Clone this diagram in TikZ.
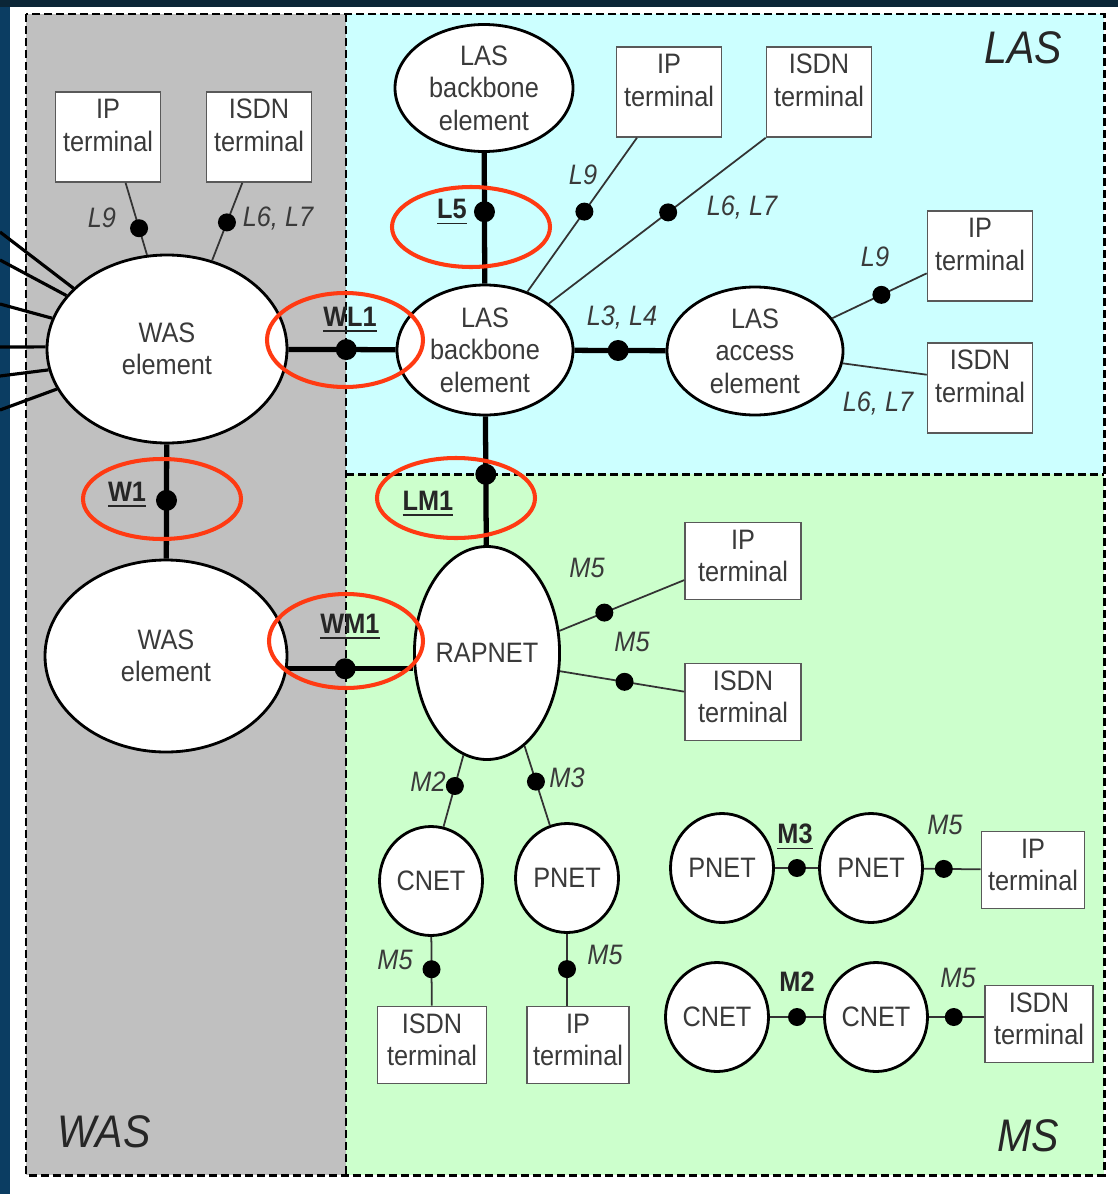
\documentclass[tikz,border=0pt]{standalone}
\usepackage{fontspec}
\setmainfont{Liberation Sans}[FakeStretch=0.9]
\usepackage{tikz}
\usetikzlibrary{shapes.geometric}

\definecolor{wasgray}{HTML}{C0C0C0}
\definecolor{lascyan}{HTML}{CCFFFF}
\definecolor{msgreen}{HTML}{CCFFCC}
\definecolor{txtgray}{HTML}{3A3A3A}
\definecolor{ringred}{HTML}{FF3A12}
\definecolor{deskblue}{HTML}{0B3D62}
\definecolor{desknavy}{HTML}{0B2637}

\newcommand{\nodesize}{\fontsize{8}{9.2}\selectfont}
\newcommand{\trm}[2][-0.9mm]{#2\\terminal\\[#1]\mbox{}}

\tikzstyle{elem} = [ellipse, draw=black, line width=0.8pt, fill=white, inner sep=0pt, align=center, text=txtgray]
\tikzstyle{net} = [ellipse, draw=black, line width=0.8pt, fill=white, inner sep=0pt, minimum width=10.3mm, minimum height=10.9mm, text=txtgray]
\tikzstyle{term} = [rectangle, draw=black!65, line width=0.45pt, fill=white, inner sep=0pt, align=center, minimum width=10.5mm, minimum height=9mm, text=txtgray]
\tikzstyle{smallterm} = [term, minimum height=7.7mm]
\tikzstyle{refdot} = [circle, fill=black, inner sep=0pt, minimum size=1.8mm]
\tikzstyle{bigdot} = [refdot, minimum size=2.1mm]
\tikzstyle{trunk} = [line width=1.5pt]
\tikzstyle{feeder} = [line width=0.9pt]
\tikzstyle{link} = [line width=0.5pt, draw=black!80]
\tikzstyle{ref} = [font=\nodesize\itshape, text=txtgray, inner sep=0pt]
\tikzstyle{iface} = [font=\nodesize\bfseries, text=black!85, inner sep=0pt]
\tikzstyle{zoneline} = [line width=0.85pt, dash pattern=on 0.8mm off 0.4mm]
\tikzstyle{zonelabel} = [font=\fontsize{13}{15}\selectfont\itshape, text=black!85, inner sep=0pt]
\tikzstyle{redring} = [draw=ringred, line width=1.15pt]

\begin{document}
\begin{tikzpicture}[x=0.1mm, y=-0.1mm, every node/.style={font=\nodesize}]
  % screen around the slide
  \fill[white] (0,0) rectangle (1118,1194);
  \fill[deskblue] (0,0) rectangle (10,1194);
  \fill[desknavy] (0,0) rectangle (1118,7);
  \useasboundingbox (0,0) rectangle (1118,1194);

  % the three domains
  \fill[wasgray] (26,14) rectangle (346,1175);
  \fill[lascyan] (346,14) rectangle (1104,474);
  \fill[msgreen] (346,474) rectangle (1104,1175);
  \draw[zoneline] (26,14) rectangle (1104,1175);
  \draw[zoneline] (346,14) -- (346,1175);
  \draw[zoneline] (346,474) -- (1104,474);

  \node[zonelabel] (tLAS) at (1023,48) {LAS};
  \node[zonelabel] (tWAS) at (104,1132) {WAS};
  \node[zonelabel] (tMS) at (1028,1136) {MS};

  % elements
  \node[elem, minimum width=24mm, minimum height=18.8mm] (wasA) at (167,349) {WAS\\element};
  \node[elem, minimum width=24.2mm, minimum height=19.2mm] (wasB) at (166,656) {WAS\\element};
  \node[elem, minimum width=17.8mm, minimum height=12.7mm] (lasA) at (484,88) {LAS\\backbone\\element};
  \node[elem, minimum width=17.6mm, minimum height=13mm] (lasB) at (485,350) {LAS\\backbone\\element};
  \node[elem, minimum width=17.6mm, minimum height=12.8mm] (lasC) at (755,351) {LAS\\access\\element};
  \node[elem, minimum width=14.1mm, minimum height=21.3mm] (rap) at (487,653) {RAPNET};

  \node[net] (cnetA) at (431,881) {CNET};
  \node[net] (pnetA) at (567,878) {PNET};
  \node[net] (pnetB) at (722,868) {PNET};
  \node[net] (pnetC) at (871,868) {PNET};
  \node[net] (cnetB) at (717,1017) {CNET};
  \node[net] (cnetC) at (876,1017) {CNET};

  % terminals
  \node[term] (ipW) at (108,137) {\trm{IP}};
  \node[term] (isdnW) at (259,137) {\trm{ISDN}};
  \node[term] (ipA) at (669,92) {\trm{IP}};
  \node[term] (isdnA) at (819,92) {\trm{ISDN}};
  \node[term] (ipB) at (980,256) {\trm{IP}};
  \node[term] (isdnB) at (980,388) {\trm{ISDN}};
  \node[smallterm, minimum width=11.6mm] (ipM) at (743,561) {\trm[-2.2mm]{IP}};
  \node[smallterm, minimum width=11.6mm] (isdnM) at (743,702) {\trm[-2.2mm]{ISDN}};
  \node[smallterm, minimum width=10.9mm] (isdnC) at (432,1045) {\trm[-2.2mm]{ISDN}};
  \node[smallterm, minimum width=10.2mm] (ipC) at (578,1045) {\trm[-2.2mm]{IP}};
  \node[smallterm, minimum width=10.3mm] (ipD) at (1033,870) {\trm[-2.2mm]{IP}};
  \node[smallterm, minimum width=10.8mm] (isdnD) at (1039,1024) {\trm[-2.2mm]{ISDN}};

  % lines leaving the WAS element to the left
  \foreach \yy/\ang [count=\i] in {232/147, 260/152, 304/165, 347/179, 376/190, 410/200} {
    \coordinate (wext\i) at (0,\yy);
    \draw[feeder] (wext\i) -- (wasA.\ang);
  }

  % reference points between the domains
  \draw[trunk] (lasA) -- node[bigdot, pos=.45] (dL5) {} (lasB);
  \draw[trunk] (wasA) -- node[bigdot, pos=.54] (dWL1) {} (lasB);
  \draw[trunk] (lasB) -- node[bigdot, pos=.48] (dL34) {} (lasC);
  \draw[trunk] (lasB) -- node[bigdot, pos=.45] (dLM1) {} (rap);
  \draw[trunk] (wasA) -- node[bigdot, pos=.49] (dW1) {} (wasB);
  \draw[trunk] (wasB.-6) -- node[bigdot, pos=.46] (dWM1) {} (wasB.-6 -| rap.west);

  % terminal and net links
  \draw[link] (ipW.-69) -- node[refdot, pos=.63] (dW9) {} (wasA.102);
  \draw[link] (isdnW.250) -- node[refdot, pos=.51] (dW67) {} (wasA.63);
  \draw[link] (ipA.235) -- node[refdot, pos=.48] (dA9) {} (lasB.54);
  \draw[link] (isdnA.south west) -- node[refdot, pos=.45] (dA67) {} (lasB.36);
  \draw[link] (lasC.23) -- node[refdot, pos=.52] (dB9) {} (ipB.198);
  \draw[link] (lasC.-8) -- (isdnB.166);
  \draw[link] (rap.17) -- node[refdot, pos=.36] (dM5a) {} (ipM.198);
  \draw[link] (rap.-14) -- node[refdot, pos=.52] (dM5b) {} (isdnM.170);
  \draw[link] (rap.-103) -- node[refdot, pos=.43] (dM2a) {} (cnetA.77);
  \draw[link] (rap.-68) -- node[refdot, pos=.45] (dM3a) {} (pnetA.108);
  \draw[link] (cnetA) -- node[refdot, pos=.47] (dM5c) {} (isdnC);
  \draw[link] (pnetA.south) -- node[refdot, pos=.49] (dM5d) {} (pnetA.south |- ipC.north);
  \draw[link] (pnetB) -- node[refdot, pos=.51] (dM3b) {} (pnetC);
  \draw[link] (pnetC) -- node[refdot, pos=.35] (dM5e) {} (ipD);
  \draw[link] (cnetB) -- node[refdot, pos=.51] (dM2b) {} (cnetC);
  \draw[link] (cnetC.east) -- node[refdot, pos=.45] (dM5f) {} (cnetC.east -| isdnD.west);

  % reference point names
  \node[ref] (lW9) at (102,218) {L9};
  \node[ref] (lW67) at (278,218) {L6, L7};
  \node[ref] (lA9) at (583,175) {L9};
  \node[ref] (lA67) at (742,207) {L6, L7};
  \node[ref] (lB9) at (875,257) {L9};
  \node[ref] (lB67) at (878,403) {L6, L7};
  \node[ref] (lL34) at (622,317) {L3, L4};
  \node[ref] (lM5a) at (587,568) {M5};
  \node[ref] (lM5b) at (632,642) {M5};
  \node[ref] (lM2a) at (428,782) {M2};
  \node[ref] (lM3a) at (567,778) {M3};
  \node[ref] (lM5c) at (395,960) {M5};
  \node[ref] (lM5d) at (605,955) {M5};
  \node[ref] (lM5e) at (945,825) {M5};
  \node[ref] (lM5f) at (958,978) {M5};
  \node[iface] (lL5) at (452,212) {\underline{L5}};
  \node[iface] (lWL1) at (350,320) {\underline{WL1}};
  \node[iface] (lW1) at (127,495) {\underline{W1}};
  \node[iface] (lLM1) at (428,504) {\underline{LM1}};
  \node[iface] (lWM1) at (350,627) {\underline{WM1}};
  \node[iface] (lM3b) at (795,837) {\underline{M3}};
  \node[iface] (lM2b) at (797,982) {M2};

  % highlighted interfaces
  \foreach \cx/\cy/\rx/\ry in {471/227/79/40, 345/340/78/47, 162/499/79/40, 346/641/77/47, 456/498/79/40}
    \draw[redring] (\cx,\cy) ellipse [x radius=\rx, y radius=\ry];
\end{tikzpicture}
\end{document}
